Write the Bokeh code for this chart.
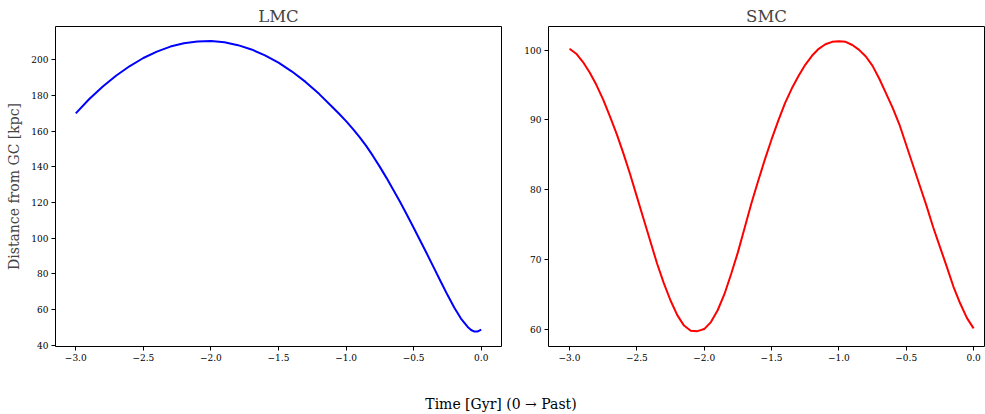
from bokeh.plotting import figure
from bokeh.layouts import row, column
from bokeh.models import Range1d, FixedTicker, Div
from bokeh.embed import file_html
from bokeh.resources import INLINE

# ---- data ----
lmc_time = [-3.0, -2.9, -2.8, -2.7, -2.6, -2.5, -2.4, -2.3, -2.2, -2.1, -2.0,
            -1.9, -1.8, -1.7, -1.6, -1.5, -1.4, -1.3, -1.2, -1.1, -1.05, -1.0,
            -0.95, -0.9, -0.85, -0.8, -0.75, -0.7, -0.65, -0.6, -0.55, -0.5,
            -0.45, -0.4, -0.35, -0.3, -0.25, -0.2, -0.15, -0.1, -0.075, -0.05,
            -0.025, 0.0]
lmc_dist = [170.0, 178.0, 185.0, 191.2, 196.5, 201.0, 204.6, 207.4, 209.3, 210.3, 210.5,
            209.8, 208.2, 205.8, 202.5, 198.4, 193.4, 187.6, 180.9, 173.4, 169.6, 165.6,
            161.3, 156.7, 151.6, 146.0, 140.0, 133.7, 127.1, 120.3, 113.2, 105.9,
            98.5, 91.0, 83.4, 75.8, 68.3, 61.2, 55.0, 50.3, 48.6, 47.7,
            47.8, 48.8]

smc_time = [-3.0, -2.95, -2.9, -2.85, -2.8, -2.75, -2.7, -2.65, -2.6, -2.55, -2.5,
            -2.45, -2.4, -2.35, -2.3, -2.25, -2.2, -2.15, -2.1, -2.05, -2.0,
            -1.95, -1.9, -1.85, -1.8, -1.75, -1.7, -1.65, -1.6, -1.55, -1.5,
            -1.45, -1.4, -1.35, -1.3, -1.25, -1.2, -1.15, -1.1, -1.05, -1.0,
            -0.95, -0.9, -0.85, -0.8, -0.75, -0.7, -0.65, -0.6, -0.55, -0.5,
            -0.45, -0.4, -0.35, -0.3, -0.25, -0.2, -0.15, -0.1, -0.05, 0.0]
smc_dist = [100.2, 99.5, 98.3, 96.8, 95.0, 92.9, 90.5, 88.0, 85.2, 82.2, 79.0,
            75.8, 72.6, 69.4, 66.6, 64.1, 62.0, 60.5, 59.75, 59.7, 60.0,
            61.0, 62.7, 65.0, 67.9, 71.0, 74.5, 78.0, 81.2, 84.3, 87.2,
            89.9, 92.4, 94.5, 96.3, 97.9, 99.2, 100.2, 100.85, 101.2, 101.3,
            101.2, 100.75, 100.05, 99.1, 97.75, 95.9, 93.8, 91.7, 89.3, 86.4,
            83.5, 80.6, 77.7, 74.6, 71.8, 69.0, 66.1, 63.7, 61.6, 60.1]

x_ticks = [-3.0, -2.5, -2.0, -1.5, -1.0, -0.5, 0.0]
x_tick_labels = ["\u22123.0", "\u22122.5", "\u22122.0", "\u22121.5", "\u22121.0", "\u22120.5", "0.0"]
lmc_y_ticks = [40, 60, 80, 100, 120, 140, 160, 180, 200]
smc_y_ticks = [60, 70, 80, 90, 100]

titles = ["LMC", "SMC"]
y_label = "Distance from GC [kpc]"
x_label = "Time [Gyr] (0 \u2192 Past)"

FONT = "DejaVu Serif"


def style(p, yticks):
    p.grid.visible = False
    p.outline_line_color = "black"
    p.outline_line_width = 1
    p.background_fill_color = "white"
    p.border_fill_color = "white"
    p.title.text_font = FONT
    p.title.text_font_size = "16.5px"
    p.title.text_font_style = "normal"
    p.title.align = "center"
    p.title.standoff = 2
    p.title.offset = 0
    for ax in (p.xaxis[0], p.yaxis[0]):
        ax.axis_line_color = None
        ax.major_tick_in = 0
        ax.major_tick_out = 4
        ax.major_tick_line_color = "black"
        ax.minor_tick_line_color = None
        ax.major_label_text_font = FONT
        ax.major_label_text_font_size = "9px"
        ax.major_label_text_color = "black"
        ax.major_label_standoff = 3
    p.xaxis[0].ticker = FixedTicker(ticks=x_ticks)
    p.xaxis[0].major_label_overrides = {t: l for t, l in zip(x_ticks, x_tick_labels)}
    p.yaxis[0].ticker = FixedTicker(ticks=yticks)


left = figure(frame_width=446, frame_height=320, output_backend="svg", toolbar_location=None,
              x_range=Range1d(-3.15, 0.15), y_range=Range1d(39.35, 218.65),
              title=titles[0], min_border_left=55, min_border_right=10,
              min_border_top=26, min_border_bottom=45)
left.line(lmc_time, lmc_dist, line_color="#0000ff", line_width=2)
style(left, lmc_y_ticks)
left.yaxis[0].axis_label = y_label
left.yaxis[0].axis_label_text_font = FONT
left.yaxis[0].axis_label_text_font_size = "14px"
left.yaxis[0].axis_label_text_font_style = "normal"
left.yaxis[0].axis_label_standoff = 6

right = figure(frame_width=436, frame_height=320, output_backend="svg", toolbar_location=None,
               x_range=Range1d(-3.156, 0.081), y_range=Range1d(57.5, 103.4),
               title=titles[1], min_border_left=37, min_border_right=1,
               min_border_top=26, min_border_bottom=45)
right.line(smc_time, smc_dist, line_color="#ff0000", line_width=2)
style(right, smc_y_ticks)

xlab = Div(text=x_label, width=976,
           styles={"text-align": "center", "font-family": FONT, "font-size": "14px",
                   "color": "black", "line-height": "16px", "padding-left": "16px",
                   "box-sizing": "border-box"})

layout = column(row(left, right), xlab, spacing=0)
open("out.html", "w").write(file_html(layout, INLINE))
